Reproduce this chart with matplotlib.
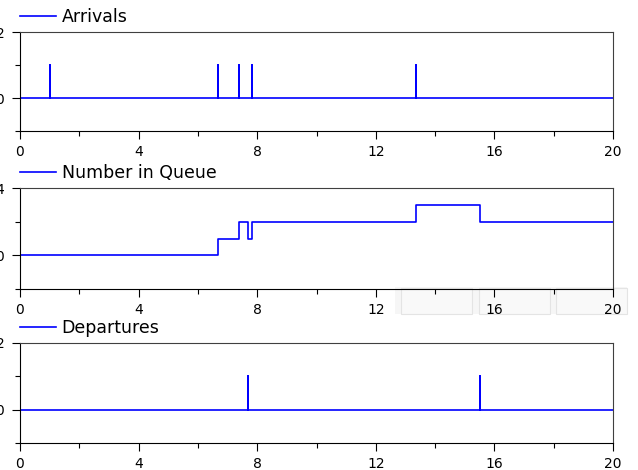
import matplotlib
matplotlib.use('Agg')
import matplotlib.pyplot as plt
from matplotlib.patches import Rectangle
from matplotlib.ticker import MultipleLocator
import numpy as np

t_end = 20.0

# event times
arrival_times = [1.01, 6.68, 7.39, 7.82, 13.36]
departure_times = [7.69, 15.51]

# queue length: change times and the level held after each change
queue_times = [0.0, 6.68, 7.39, 7.69, 7.82, 13.36, 15.51]
queue_levels = [0, 1, 2, 1, 2, 3, 2]

titles = ["Arrivals", "Number in Queue", "Departures"]
ylims = [(-1, 2), (-2, 4), (-1, 2)]
ysteps = [1, 2, 1]

blue = '#0000ff'


def impulses(times):
    # zero signal with unit spikes at the given times
    x = [0.0]
    y = [0.0]
    for t in times:
        x += [t, t, t]
        y += [0.0, 1.0, 0.0]
    x.append(t_end)
    y.append(0.0)
    return np.array(x), np.array(y)


fig = plt.figure(figsize=(6.38, 4.70), dpi=100)

# faint screenshot artefact under the middle plot
fig.patches.append(Rectangle((395/638, 1-314/470), 232/638, 27/470, transform=fig.transFigure,
                             facecolor='#f6f6f6', edgecolor='none', zorder=-5))
for x0, x1 in [(401, 472), (479, 550), (556, 627)]:
    fig.patches.append(Rectangle((x0/638, 1-314/470), (x1-x0)/638, 26/470, transform=fig.transFigure,
                                 facecolor='#f9f9f9', edgecolor='#e4e4e4', linewidth=0.8, zorder=-4))

rects = [
    [20/638, 1-131/470, 593/638, 99/470],
    [20/638, 1-289/470, 593/638, 101/470],
    [20/638, 1-443/470, 593/638, 100/470],
]

axes = [fig.add_axes(r) for r in rects]
for ax in axes:
    ax.patch.set_alpha(0)

xa, ya = impulses(arrival_times)
axes[0].plot(xa, ya, color=blue, lw=1.2, label=titles[0])

qx = queue_times + [t_end]
qy = queue_levels + [queue_levels[-1]]
axes[1].step(qx, qy, where='post', color=blue, lw=1.2, label=titles[1])

xd, yd = impulses(departure_times)
axes[2].plot(xd, yd, color=blue, lw=1.2, label=titles[2])

for ax, yl, ys in zip(axes, ylims, ysteps):
    ax.set_xlim(0, t_end)
    ax.set_ylim(*yl)
    ax.xaxis.set_major_locator(MultipleLocator(4))
    ax.xaxis.set_minor_locator(MultipleLocator(2))
    ax.set_yticks([yl[1], 0])
    ax.yaxis.set_minor_locator(MultipleLocator(ys))
    ax.tick_params(which='major', length=5.8, width=0.8, labelsize=10, pad=4)
    ax.tick_params(which='minor', length=3.6, width=0.8)
    ax.tick_params(axis='y', which='major', pad=5.5)
    for s in ['left', 'bottom']:
        ax.spines[s].set_color('black')
        ax.spines[s].set_linewidth(0.8)
    for s in ['top', 'right']:
        ax.spines[s].set_color('#404040')
        ax.spines[s].set_linewidth(0.8)
    ax.legend(loc='lower left', bbox_to_anchor=(0, 1.06), frameon=False,
              fontsize=12.5, handlelength=2.1, handletextpad=0.3,
              borderpad=0, borderaxespad=0)

fig.savefig('out.png', dpi=100)
